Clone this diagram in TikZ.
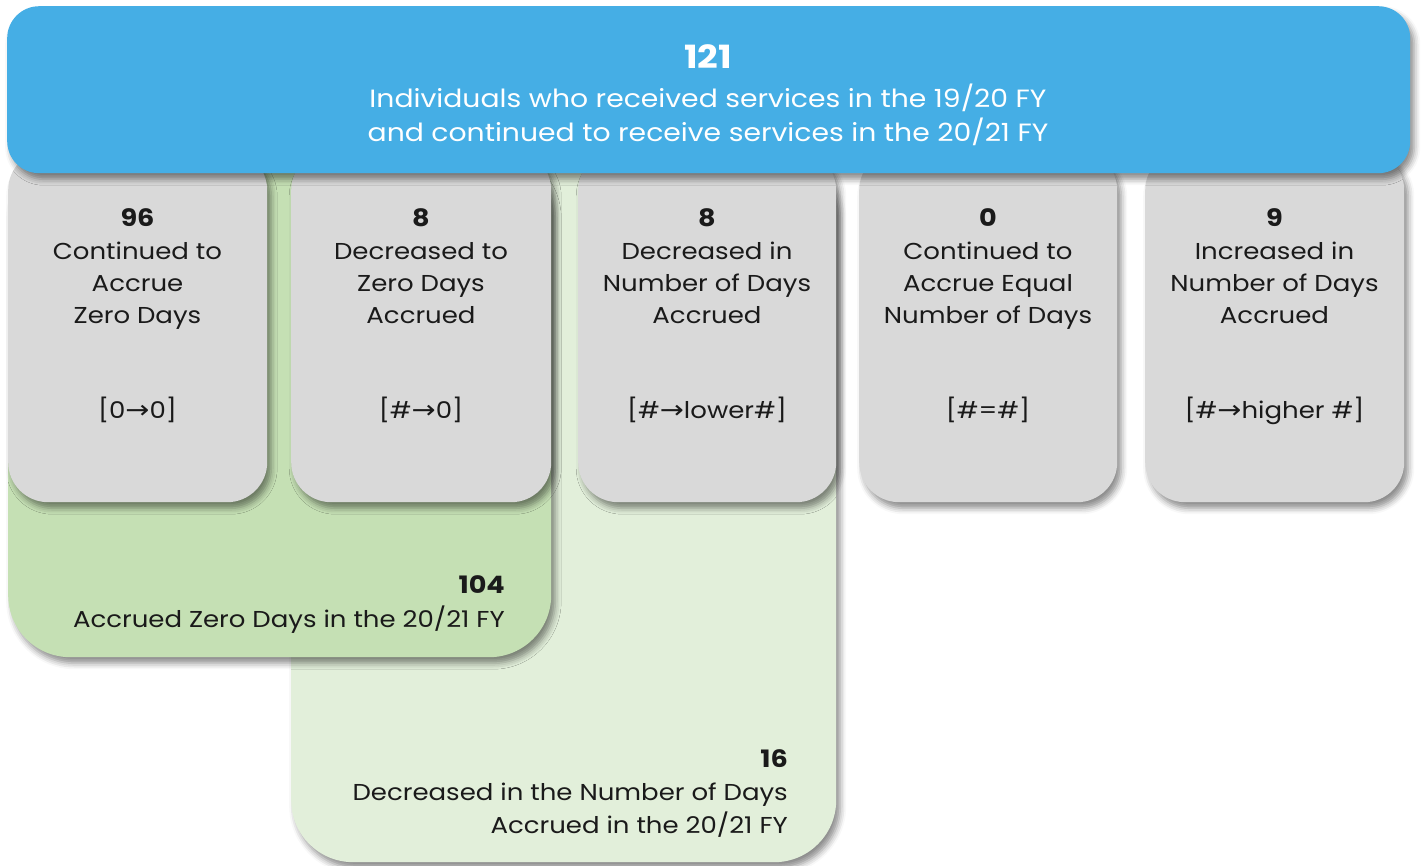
\documentclass[tikz,border=0pt]{standalone}
\usepackage{fontspec}
\setmainfont{Poppins}[FakeStretch=1.13]
\newfontfamily\symfam{DejaVu Sans}[FakeStretch=1.15]
\newcommand\rarr{{\symfam\fontsize{25}{32}\selectfont\raisebox{-0.5pt}{→}}}
\usetikzlibrary{shadows.blur}
\definecolor{topblue}{HTML}{45AEE5}
\definecolor{boxgray}{HTML}{D9D9D9}
\definecolor{dgreen}{HTML}{C5E0B4}
\definecolor{lgreen}{HTML}{E2EFDA}
\definecolor{ink}{HTML}{1A1A1A}
\tikzset{
  card/.style={rectangle, draw=none, inner sep=0pt, anchor=north west, rounded corners=#1,
    blur shadow={shadow xshift=4pt, shadow yshift=-6pt, shadow blur radius=6pt, shadow opacity=45}},
  body/.style={font=\fontsize{23}{32}\selectfont, text=ink, inner sep=0pt, anchor=base},
  num/.style={font=\fontsize{24}{32}\selectfont\bfseries, text=ink, inner sep=0pt, anchor=base},
  wbody/.style={font=\fontsize{25}{34}\selectfont, text=white, inner sep=0pt, anchor=base},
  wnum/.style={font=\fontsize{32}{38}\selectfont\bfseries, text=white, inner sep=0pt, anchor=base},
}
\begin{document}
\begin{tikzpicture}[x=1pt,y=-1pt]
\useasboundingbox (0,0) rectangle (1422,865);
% green groups
\node[card=62pt, fill=lgreen, minimum width=545pt, minimum height=712pt] (lg) at (291,150) {};
\node[card=62pt, fill=dgreen, minimum width=543pt, minimum height=507pt] (dg) at (8,150) {};
% gray cards
\node[card=40pt, fill=boxgray, minimum width=259pt, minimum height=352pt] (g1) at (8,150) {};
\node[card=40pt, fill=boxgray, minimum width=260pt, minimum height=352pt] (g2) at (291,150) {};
\node[card=40pt, fill=boxgray, minimum width=258pt, minimum height=352pt] (g3) at (578,150) {};
\node[card=40pt, fill=boxgray, minimum width=258pt, minimum height=352pt] (g4) at (859,150) {};
\node[card=40pt, fill=boxgray, minimum width=259pt, minimum height=352pt] (g5) at (1145,150) {};
% top blue
\node[card=32pt, fill=topblue, minimum width=1403pt, minimum height=167pt] (top) at (7,6) {};
\node[wnum] (tn) at (708,68) {121};
\node[wbody] (t1) at (708,107) {Individuals who received services in the 19/20 FY};
\node[wbody] (t2) at (708,141) {and continued to receive services in the 20/21 FY};
% card texts
\node[num] (n1) at (137.5,226) {96};
\node[body] (a1) at (137.5,259) {Continued to};
\node[body] (b1) at (137.5,291) {Accrue};
\node[body] (c1) at (137.5,323) {Zero Days};
\node[body] (d1) at (137.5,418) {[0\rarr0]};

\node[num] (n2) at (421,226) {8};
\node[body] (a2) at (421,259) {Decreased to};
\node[body] (b2) at (421,291) {Zero Days};
\node[body] (c2) at (421,323) {Accrued};
\node[body] (d2) at (421,418) {[\#\rarr0]};

\node[num] (n3) at (707,226) {8};
\node[body] (a3) at (707,259) {Decreased in};
\node[body] (b3) at (707,291) {Number of Days};
\node[body] (c3) at (707,323) {Accrued};
\node[body] (d3) at (707,418) {[\#\rarr lower\#]};

\node[num] (n4) at (988,226) {0};
\node[body] (a4) at (988,259) {Continued to};
\node[body] (b4) at (988,291) {Accrue Equal};
\node[body] (c4) at (988,323) {Number of Days};
\node[body] (d4) at (988,418) {[\#=\#]};

\node[num] (n5) at (1274.5,226) {9};
\node[body] (a5) at (1274.5,259) {Increased in};
\node[body] (b5) at (1274.5,291) {Number of Days};
\node[body] (c5) at (1274.5,323) {Accrued};
\node[body] (d5) at (1274.5,418) {[\#\rarr higher \#]};
% green texts
\node[num, anchor=base east] (gn1) at (505,593) {104};
\node[body, anchor=base east] (ga1) at (505,627) {Accrued Zero Days in the 20/21 FY};
\node[num, anchor=base east] (gn2) at (788,767) {16};
\node[body, anchor=base east] (gb1) at (788,800) {Decreased in the Number of Days};
\node[body, anchor=base east] (gb2) at (788,833) {Accrued in the 20/21 FY};
\end{tikzpicture}
\end{document}
